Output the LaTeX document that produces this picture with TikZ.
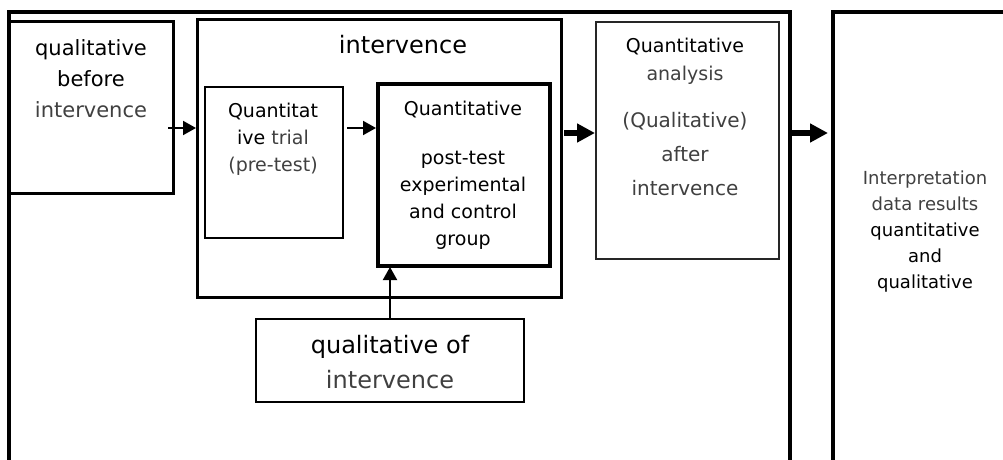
\documentclass[tikz,border=0pt]{standalone}
\usepackage{fontspec}
\setmainfont{DejaVu Sans}
\usetikzlibrary{arrows.meta}
\definecolor{tg}{HTML}{404040}
\begin{document}
\begin{tikzpicture}[x=1pt,y=-1pt,
  box/.style={draw, rectangle, inner sep=0pt, outer sep=0pt},
  txt/.style={align=center, inner sep=0pt},
  thinarr/.style={line width=2pt, -{Triangle[length=13pt,width=14pt]}},
  thickarr/.style={line width=6pt, -{Triangle[length=18pt,width=18pt]}}]
\useasboundingbox[fill=white] (0,0) rectangle (1003,460);
% frames and boxes
\node[box, line width=4pt, minimum width=781pt, minimum height=480pt] (outer) at (399.5,252) {};
\node[box, line width=4pt, minimum width=200pt, minimum height=480pt] (res) at (933,252) {};
\node[box, line width=3pt, minimum width=164pt, minimum height=171pt] (lb) at (91,107.5) {};
\node[box, line width=3pt, minimum width=364pt, minimum height=277pt] (ib) at (379,158.5) {};
\node[box, line width=2pt, minimum width=138pt, minimum height=151pt] (qt) at (274,162.5) {};
\node[box, line width=3.5pt, minimum width=172pt, minimum height=182pt] (pt) at (464,175) {};
\node[box, line width=1.8pt, draw=black!85, minimum width=183pt, minimum height=237pt] (qa) at (687.5,140.5) {};
\node[box, line width=2.5pt, minimum width=268pt, minimum height=83pt] (qb) at (390,360.5) {};
% texts
\node[txt, font=\fontsize{21}{31}\selectfont] (tlb) at (91,79) {qualitative\\before\\\textcolor{tg}{intervence}};
\node[txt, font=\fontsize{24}{29}\selectfont] (tib) at (403,45) {intervence};
\node[txt, font=\fontsize{19}{27}\selectfont] (tqt) at (273,139) {Quantitat\\ive \textcolor{tg}{trial}\\\textcolor{tg}{(pre-test)}};
\node[txt, font=\fontsize{19}{27}\selectfont] (tpt) at (463,175) {Quantitative\\[22pt]post-test\\experimental\\and control\\group};
\node[txt, font=\fontsize{19}{28}\selectfont] (tqa1) at (685,61) {Quantitative\\\textcolor{tg}{analysis}};
\node[txt, font=\fontsize{20}{34}\selectfont, text=tg] (tqa2) at (685,154) {(Qualitative)\\after\\intervence};
\node[txt, font=\fontsize{18}{26}\selectfont] (tres) at (925,232) {\textcolor{tg}{Interpretation}\\\textcolor{tg}{data results}\\quantitative\\and\\qualitative};
\node[txt, font=\fontsize{24}{35}\selectfont] (tqb) at (390,362) {qualitative of\\\textcolor{tg}{intervence}};
% connectors
\coordinate (a1) at ([xshift=-5pt,yshift=-20.5pt]lb.east);
\draw[thinarr, shorten >=1pt] (a1) -- (ib.west |- a1);
\coordinate (a2) at ([yshift=34.5pt]qt.east);
\draw[thinarr, shorten <=4pt, shorten >=2pt] (a2) -- (pt.west |- a2);
\coordinate (a3) at ([yshift=25.5pt]ib.east);
\draw[thickarr, shorten <=3pt, shorten >=1pt] (a3) -- (qa.west |- a3);
\coordinate (a4) at ([yshift=119pt]outer.east);
\draw[thickarr, shorten >=5pt] (a4) -- (res.west |- a4);
\draw[thinarr, shorten >=1pt] (qb.north) -- (qb.north |- pt.south);
\end{tikzpicture}
\end{document}
